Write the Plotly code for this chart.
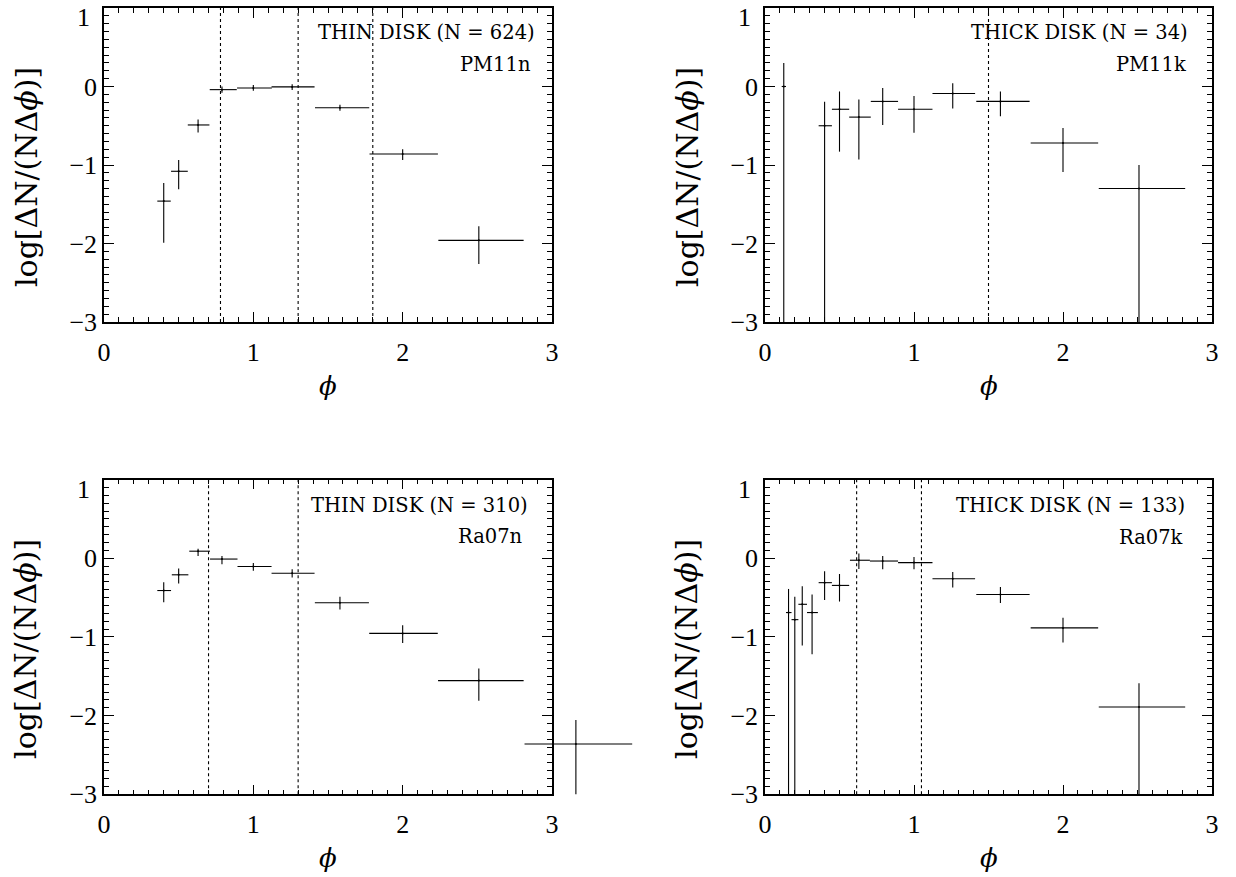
import plotly.graph_objects as go

# ---------------- data ----------------
# PM11n  (thin disk, N = 624)
pm11n_x    = [0.40, 0.50, 0.63, 0.79, 1.00, 1.26, 1.58, 2.00, 2.51]
pm11n_xlo  = [0.357, 0.449, 0.561, 0.708, 0.891, 1.122, 1.413, 1.778, 2.239]
pm11n_xhi  = [0.447, 0.561, 0.706, 0.889, 1.124, 1.410, 1.776, 2.236, 2.810]
pm11n_y    = [-1.46, -1.08, -0.49, -0.04, -0.02, -0.005, -0.27, -0.86, -1.96]
pm11n_ylo  = [-1.99, -1.31, -0.585, -0.08, -0.055, -0.046, -0.31, -0.935, -2.26]
pm11n_yhi  = [-1.23, -0.935, -0.42, 0.0, 0.018, 0.03, -0.233, -0.80, -1.78]
pm11n_vlines = [0.78, 1.30, 1.80]

# PM11k  (thick disk, N = 34)
pm11k_x    = [0.126, 0.40, 0.50, 0.63, 0.79, 1.00, 1.26, 1.58, 2.00, 2.51]
pm11k_xlo  = [0.112, 0.360, 0.449, 0.565, 0.710, 0.893, 1.124, 1.418, 1.783, 2.240]
pm11k_xhi  = [0.141, 0.449, 0.565, 0.710, 0.893, 1.124, 1.410, 1.776, 2.236, 2.820]
pm11k_y    = [0.0, -0.50, -0.29, -0.39, -0.19, -0.29, -0.09, -0.19, -0.72, -1.30]
pm11k_ylo  = [-3.5, -3.5, -0.83, -0.93, -0.49, -0.59, -0.28, -0.38, -1.09, -3.5]
pm11k_yhi  = [0.30, -0.195, -0.063, -0.165, -0.02, -0.12, 0.04, -0.063, -0.53, -1.0]
pm11k_vlines = [1.50]

# Ra07n  (thin disk, N = 310)
ra07n_x    = [0.40, 0.50, 0.63, 0.79, 1.00, 1.26, 1.58, 2.00, 2.51, 3.16]
ra07n_xlo  = [0.357, 0.454, 0.571, 0.710, 0.894, 1.122, 1.412, 1.776, 2.237, 2.816]
ra07n_xhi  = [0.449, 0.565, 0.710, 0.894, 1.122, 1.410, 1.774, 2.235, 2.810, 3.537]
ra07n_y    = [-0.41, -0.21, 0.09, -0.01, -0.105, -0.19, -0.565, -0.955, -1.555, -2.36]
ra07n_ylo  = [-0.56, -0.32, 0.03, -0.076, -0.16, -0.245, -0.65, -1.076, -1.81, -3.0]
ra07n_yhi  = [-0.305, -0.13, 0.12, 0.03, -0.06, -0.14, -0.49, -0.85, -1.40, -2.055]
ra07n_vlines = [0.70, 1.30]

# Ra07k  (thick disk, N = 133)
ra07k_x    = [0.158, 0.20, 0.25, 0.316, 0.40, 0.50, 0.63, 0.79, 1.00, 1.26, 1.58, 2.00, 2.51]
ra07k_xlo  = [0.141, 0.178, 0.224, 0.282, 0.360, 0.449, 0.570, 0.704, 0.893, 1.124, 1.418, 1.783, 2.240]
ra07k_xhi  = [0.178, 0.224, 0.282, 0.355, 0.449, 0.565, 0.704, 0.893, 1.124, 1.410, 1.776, 2.236, 2.820]
ra07k_y    = [-0.69, -0.78, -0.585, -0.69, -0.31, -0.345, -0.025, -0.035, -0.055, -0.26, -0.46, -0.885, -1.89]
ra07k_ylo  = [-3.5, -3.5, -1.11, -1.22, -0.53, -0.55, -0.135, -0.14, -0.14, -0.37, -0.57, -1.07, -3.5]
ra07k_yhi  = [-0.39, -0.49, -0.355, -0.46, -0.165, -0.20, 0.06, 0.03, 0.015, -0.175, -0.365, -0.755, -1.59]
ra07k_vlines = [0.615, 1.05]

panel_titles = ["THIN DISK (N = 624)", "THICK DISK (N = 34)",
                "THIN DISK (N = 310)", "THICK DISK (N = 133)"]
panel_labels = ["PM11n", "PM11k", "Ra07n", "Ra07k"]

x_range = [0, 3]
y_range = [-3, 1]
x_tickvals = [0, 1, 2, 3]
x_ticktext = ["0", "1", "2", "3"]
y_tickvals = [-3, -2, -1, 0, 1]
y_ticktext = ["\u22123", "\u22122", "\u22121", "0", ""]   # top label placed separately (sits just inside)
y_top_label = "1"
x_title = "<i>ϕ</i>"
y_title = "log[ΔN/(NΔ<i>ϕ</i>)]"

# ---------------- layout geometry (pixels) ----------------
W, H = 1236, 877
def fx(p): return p / W
def fy(p): return 1 - p / H

cols = [(104, 552), (765, 1212)]
rows = [(8, 322), (479.6, 794.3)]
boxes = [(cols[0], rows[0]), (cols[1], rows[0]), (cols[0], rows[1]), (cols[1], rows[1])]

fig = go.Figure()

def err_trace(x, xlo, xhi, y, ylo, yhi, xa, ya):
    return go.Scatter(
        x=x, y=y, mode="markers", xaxis=xa, yaxis=ya,
        marker=dict(size=2, color="black"),
        error_x=dict(type="data", symmetric=False,
                     array=[h - v for h, v in zip(xhi, x)],
                     arrayminus=[v - l for v, l in zip(x, xlo)],
                     width=0, thickness=1.1, color="black"),
        error_y=dict(type="data", symmetric=False,
                     array=[h - v for h, v in zip(yhi, y)],
                     arrayminus=[v - l for v, l in zip(y, ylo)],
                     width=0, thickness=1.1, color="black"),
        showlegend=False, hoverinfo="skip")

fig.add_trace(err_trace(pm11n_x, pm11n_xlo, pm11n_xhi, pm11n_y, pm11n_ylo, pm11n_yhi, "x", "y"))
fig.add_trace(err_trace(pm11k_x, pm11k_xlo, pm11k_xhi, pm11k_y, pm11k_ylo, pm11k_yhi, "x2", "y2"))
# empty trace so that panel 3's own frame is drawn
fig.add_trace(go.Scatter(x=[], y=[], xaxis="x3", yaxis="y3", showlegend=False, hoverinfo="skip"))
# Ra07n drawn on an invisible, extended copy of panel 3's axes (same scale),
# so its last cross can run past the frame as in the original
fig.add_trace(err_trace(ra07n_x, ra07n_xlo, ra07n_xhi, ra07n_y, ra07n_ylo, ra07n_yhi, "x5", "y5"))
fig.add_trace(err_trace(ra07k_x, ra07k_xlo, ra07k_xhi, ra07k_y, ra07k_ylo, ra07k_yhi, "x4", "y4"))

tick_family = "Liberation Serif, DejaVu Serif, serif"
tickfont = dict(family=tick_family, size=26, color="black")
def axis_style(rng, tickvals, ticktext, dom, anchor):
    return dict(range=rng, domain=dom, anchor=anchor,
                tickmode="array", tickvals=tickvals, ticktext=ticktext,
                automargin=False, layer="above traces",
                showgrid=False, zeroline=False, showline=True, linecolor="black",
                linewidth=1.5, mirror="allticks", ticks="inside", ticklen=10,
                tickwidth=1.2, tickcolor="black", tickfont=tickfont, fixedrange=True,
                minor=dict(dtick=0.1, tick0=0, ticks="inside", ticklen=5, tickwidth=1,
                           tickcolor="black", showgrid=False))

layout = dict(template="none", width=W, height=H, margin=dict(l=0, r=0, t=0, b=0, autoexpand=False),
              paper_bgcolor="white", plot_bgcolor="rgba(0,0,0,0)", showlegend=False)
for i, ((c0, c1), (r0, r1)) in enumerate(boxes):
    n = "" if i == 0 else str(i + 1)
    xa = axis_style(x_range, x_tickvals, x_ticktext, [fx(c0), fx(c1)], "y" + n)
    xa["ticklabelstandoff"] = 6
    layout["xaxis" + n] = xa
    layout["yaxis" + n] = axis_style(y_range, y_tickvals, y_ticktext, [fy(r1), fy(r0)], "x" + n)

(c0, c1), (r0, r1) = boxes[2]
ppx = (c1 - c0) / (x_range[1] - x_range[0])
ppy = (r1 - r0) / (y_range[1] - y_range[0])
ext_r, ext_b = 660, r1 + 15
layout["xaxis5"] = dict(domain=[fx(c0), fx(ext_r)], range=[0, (ext_r - c0) / ppx],
                        anchor="y5", visible=False, fixedrange=True, automargin=False)
layout["yaxis5"] = dict(domain=[fy(ext_b), fy(r0)], range=[y_range[0] - (ext_b - r1) / ppy, y_range[1]],
                        anchor="x5", visible=False, fixedrange=True, automargin=False)
fig.update_layout(**layout)

# dotted vertical lines
for n, vl in zip(["", "2", "3", "4"], [pm11n_vlines, pm11k_vlines, ra07n_vlines, ra07k_vlines]):
    for v in vl:
        fig.add_shape(type="line", xref="x" + n, yref="y" + n + " domain", x0=v, x1=v, y0=0, y1=1,
                      line=dict(color="black", width=1.1, dash="dot"), layer="above")

# panel texts
txt_font = dict(family="DejaVu Serif", size=19.5, color="black")
title_pos = [(537, 33, 533, 64), (1190, 33, 1188, 64), (530, 505, 525, 536), (1187, 505, 1185, 537)]
for (tx, ty, lx, ly), t, l in zip(title_pos, panel_titles, panel_labels):
    fig.add_annotation(x=fx(tx), y=fy(ty), xref="paper", yref="paper", text=t, showarrow=False,
                       xanchor="right", yanchor="middle", font=txt_font)
    fig.add_annotation(x=fx(lx), y=fy(ly), xref="paper", yref="paper", text=l, showarrow=False,
                       xanchor="right", yanchor="middle", font=txt_font)

# axis titles and the top y label
for (c0, c1), (r0, r1) in boxes:
    fig.add_annotation(x=fx((c0 + c1) / 2), y=fy(r1 + 64), xref="paper", yref="paper", text=x_title,
                       showarrow=False, xanchor="center", yanchor="middle",
                       font=dict(family="DejaVu Serif", size=26, color="black"))
    fig.add_annotation(x=fx(c0 - 78), y=fy((r0 + r1) / 2 + 12), xref="paper", yref="paper", text=y_title,
                       showarrow=False, xanchor="center", yanchor="middle", textangle=-90,
                       font=dict(family="DejaVu Serif", size=30, color="black"))
    fig.add_annotation(x=fx(c0 - 12), y=fy(r0 + 10), xref="paper", yref="paper", text=y_top_label,
                       showarrow=False, xanchor="right", yanchor="middle", font=tickfont)

fig.write_html("out.html", config={"displayModeBar": False},
               post_script="document.body.style.margin='0px';document.body.style.overflow='hidden';")
